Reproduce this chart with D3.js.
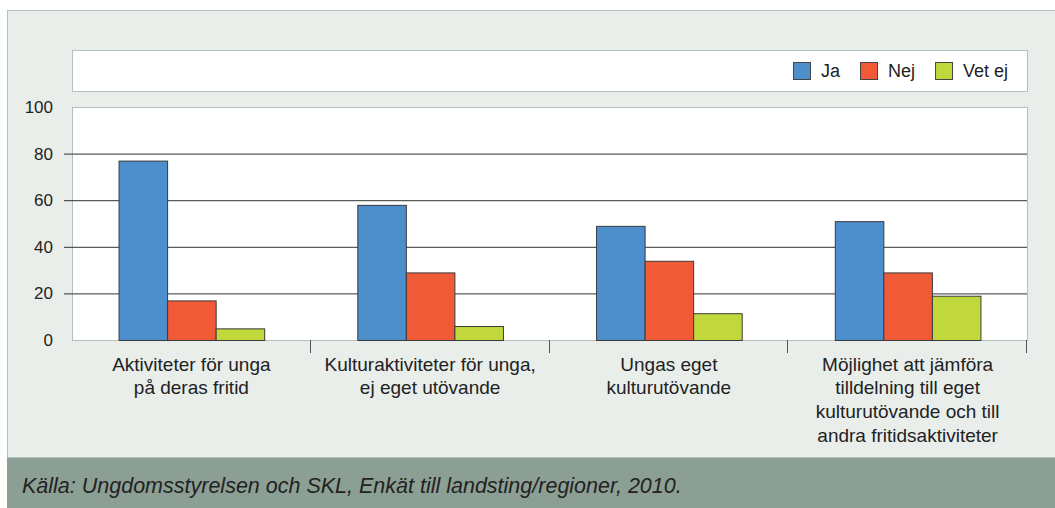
<!DOCTYPE html>
<html lang="sv">
<head>
<meta charset="UTF-8">
<title>Ungdomsstyrelsen och SKL 2010</title>
<style>
    body { margin: 0; background: #ffffff; }
    svg { display: block; font-family: "Liberation Sans", Arial, sans-serif; }
</style>
</head>
<body>
<div class="chart"></div>
<script src="https://d3js.org/d3.v7.min.js"></script>
<script>
// categories (one array of lines per label)
var categories = [
    ["Aktiviteter för unga", "på deras fritid"],
    ["Kulturaktiviteter för unga,", "ej eget utövande"],
    ["Ungas eget", "kulturutövande"],
    ["Möjlighet att jämföra", "tilldelning till eget", "kulturutövande och till", "andra fritidsaktiviteter"]
];
var seriesNames = ["Ja", "Nej", "Vet ej"];
var jaValues = [77, 58, 49, 51];
var nejValues = [17, 29, 34, 29];
var vetEjValues = [5, 6, 11.5, 19];
var yTicks = [0, 20, 40, 60, 80, 100];
var source = "Källa: Ungdomsstyrelsen och SKL, Enkät till landsting/regioner, 2010.";

var colors = ["#4d8fcd", "#f15a37", "#c0d83c"];
var series = [jaValues, nejValues, vetEjValues];

var width = 1055, height = 508;
var plot = { left: 72, right: 1027, top: 107, bottom: 340 };

var svg = d3.select(".chart").append("svg")
    .attr("width", width)
    .attr("height", height);

// panel + footer
svg.append("rect")
    .attr("x", 7.5).attr("y", 10.5)
    .attr("width", width).attr("height", 447)
    .attr("fill", "#e9eeeb")
    .attr("stroke", "#b4c2b9");
svg.append("rect")
    .attr("x", 7).attr("y", 458)
    .attr("width", width).attr("height", 50)
    .attr("fill", "#8c9f94");
svg.append("text")
    .attr("x", 22).attr("y", 493)
    .attr("font-size", "21.5px")
    .attr("font-style", "italic")
    .attr("fill", "#222")
    .text(source);

// legend box
svg.append("rect")
    .attr("x", plot.left + 0.5).attr("y", 50.5)
    .attr("width", plot.right - plot.left).attr("height", 41)
    .attr("fill", "#ffffff")
    .attr("stroke", "#b4c2b9");

var legend = svg.append("g").attr("class", "legend");
var lx = 793;
seriesNames.forEach(function(name, i) {
    legend.append("rect")
        .attr("x", lx + 0.5).attr("y", 62.5)
        .attr("width", 17).attr("height", 17)
        .attr("fill", colors[i])
        .attr("stroke", "#444");
    var t = legend.append("text")
        .attr("x", lx + 28).attr("y", 77)
        .attr("font-size", "18px")
        .attr("fill", "#222")
        .text(name);
    lx += 28 + t.node().getComputedTextLength() + 20;
});

// plot frame
svg.append("rect")
    .attr("x", plot.left + 0.5).attr("y", plot.top + 0.5)
    .attr("width", plot.right - plot.left).attr("height", plot.bottom - plot.top)
    .attr("fill", "#ffffff")
    .attr("stroke", "#b4c2b9");

var x = d3.scaleBand()
    .domain(d3.range(categories.length))
    .range([plot.left, plot.right])
    .paddingInner(0.39)
    .paddingOuter(0.195);

var xSub = d3.scaleBand()
    .domain(d3.range(seriesNames.length))
    .range([0, x.bandwidth()]);

var y = d3.scaleLinear()
    .domain([0, 100])
    .range([plot.bottom, plot.top]);

// gridlines (20..80)
var grid = svg.append("g")
    .attr("transform", "translate(" + plot.right + ",0)")
    .call(d3.axisLeft(y).tickValues(yTicks).tickSize(plot.right - 64).tickFormat(""));
grid.select(".domain").remove();
grid.selectAll(".tick line")
    .attr("stroke", "#333")
    .attr("opacity", function(d) { return d === 0 || d === 100 ? 0 : 1; });

// y labels
var yAxis = svg.append("g")
    .attr("transform", "translate(64,0)")
    .call(d3.axisLeft(y).tickValues(yTicks).tickSize(0).tickPadding(11));
yAxis.select(".domain").remove();
yAxis.selectAll("text")
    .attr("font-size", "17px")
    .attr("font-family", "'Liberation Sans', Arial, sans-serif")
    .attr("fill", "#222");

// bars
var groups = svg.append("g").attr("class", "bars")
    .selectAll("g")
    .data(categories)
    .enter().append("g")
    .attr("transform", function(d, i) { return "translate(" + x(i) + ",0)"; });

groups.selectAll("rect")
    .data(function(d, i) { return series.map(function(s, j) { return { s: j, v: s[i] }; }); })
    .enter().append("rect")
    .attr("x", function(d) { return xSub(d.s) + 0.5; })
    .attr("y", function(d) { return y(d.v) + 0.5; })
    .attr("width", xSub.bandwidth())
    .attr("height", function(d) { return y(0) - y(d.v); })
    .attr("fill", function(d) { return colors[d.s]; })
    .attr("stroke", "#3a3a3a")
    .attr("stroke-width", 1);

// x ticks at category boundaries
var boundary = function(i) { return x(i) + x.bandwidth() + (x.step() - x.bandwidth()) / 2; };
svg.append("g").selectAll("line")
    .data(d3.range(categories.length))
    .enter().append("line")
    .attr("x1", function(i) { return Math.round(boundary(i)) - 0.5; })
    .attr("x2", function(i) { return Math.round(boundary(i)) - 0.5; })
    .attr("y1", plot.bottom)
    .attr("y2", plot.bottom + 13)
    .attr("stroke", "#555");

// category labels
var labels = svg.append("g").selectAll("text")
    .data(categories)
    .enter().append("text")
    .attr("text-anchor", "middle")
    .attr("font-size", "19px")
    .attr("fill", "#222");
labels.selectAll("tspan")
    .data(function(d, i) { return d.map(function(line) { return { line: line, i: i }; }); })
    .enter().append("tspan")
    .attr("x", function(d) { return x(d.i) + x.bandwidth() / 2; })
    .attr("y", function(d, k) { return 370.5 + k * 23.7; })
    .text(function(d) { return d.line; });
</script>
</body>
</html>
